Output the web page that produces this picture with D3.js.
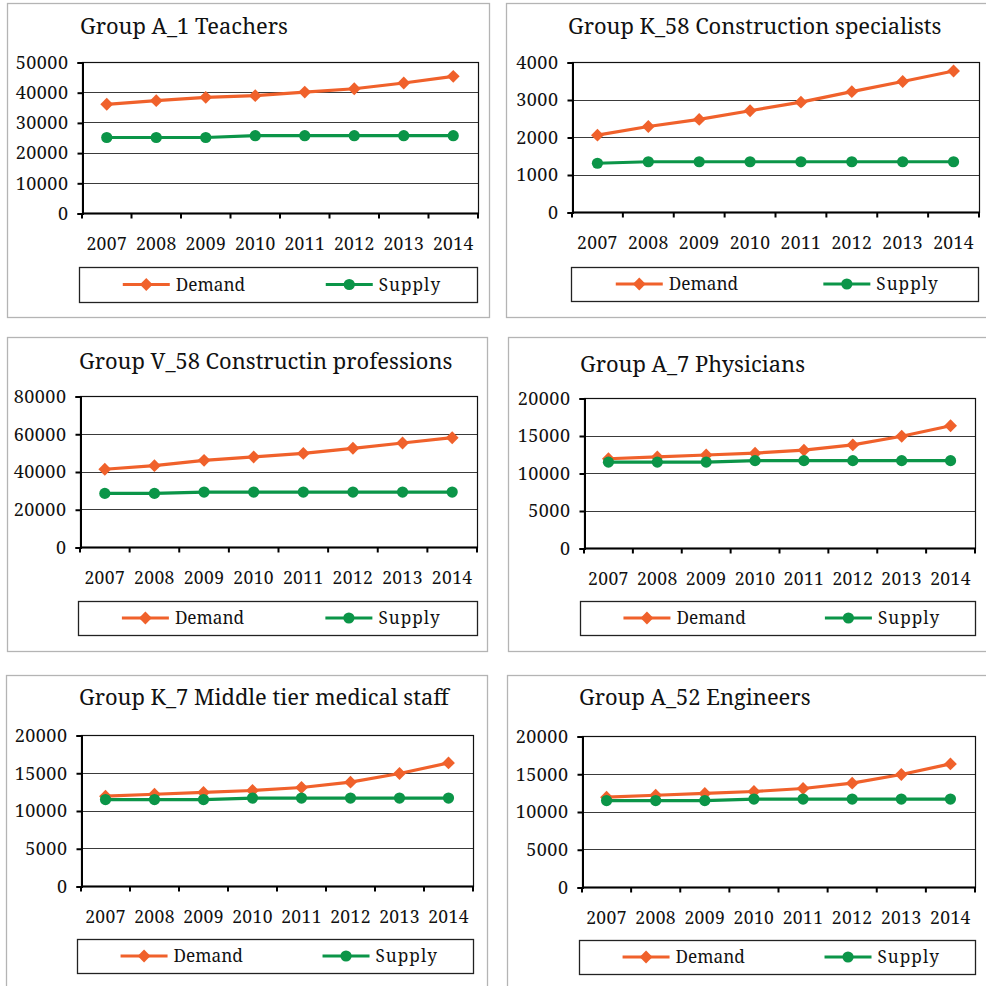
<!DOCTYPE html>
<html>
<head>
<meta charset="utf-8">
<script src="https://cdn.jsdelivr.net/npm/d3@7"></script>
<style>
  html, body { margin: 0; padding: 0; background: #fff; }
  svg { display: block; }
  text { font-family: "Noto Serif", "Noto Serif CJK SC", "Noto Serif CJK JP", "DejaVu Serif", serif; fill: #111; }
</style>
</head>
<body>
<svg id="chart" width="986" height="986"></svg>
<script>
// Years shared by every panel
const years = ["2007", "2008", "2009", "2010", "2011", "2012", "2013", "2014"];

// Panel titles
const titles = [
  "Group A_1 Teachers",
  "Group K_58 Construction specialists",
  "Group V_58 Constructin professions",
  "Group A_7 Physicians",
  "Group K_7 Middle tier medical staff",
  "Group A_52 Engineers"
];

// Demand and supply per group
const demandTeachers   = [36000, 37200, 38300, 38850, 40050, 41150, 43050, 45250];
const supplyTeachers   = [25000, 25000, 25000, 25600, 25600, 25600, 25600, 25600];
const demandConstrSpec = [2050, 2280, 2470, 2700, 2930, 3210, 3480, 3760];
const supplyConstrSpec = [1300, 1340, 1340, 1340, 1340, 1340, 1340, 1340];
const demandConstrProf = [41200, 43100, 45900, 47700, 49600, 52300, 55100, 57900];
const supplyConstrProf = [28400, 28400, 29100, 29100, 29100, 29100, 29100, 29100];
const demandPhysicians = [11900, 12150, 12400, 12650, 13050, 13750, 14900, 16300];
const supplyPhysicians = [11450, 11450, 11450, 11650, 11650, 11650, 11650, 11650];
const demandMedStaff   = [11900, 12150, 12400, 12650, 13050, 13750, 14900, 16300];
const supplyMedStaff   = [11450, 11450, 11450, 11650, 11650, 11650, 11650, 11650];
const demandEngineers  = [11900, 12150, 12400, 12650, 13050, 13750, 14900, 16300];
const supplyEngineers  = [11450, 11450, 11450, 11650, 11650, 11650, 11650, 11650];

// Y-axis tick values per panel
const ticksTeachers   = [0, 10000, 20000, 30000, 40000, 50000];
const ticksConstrSpec = [0, 1000, 2000, 3000, 4000];
const ticksConstrProf = [0, 20000, 40000, 60000, 80000];
const ticksPhysicians = [0, 5000, 10000, 15000, 20000];
const ticksMedStaff   = [0, 5000, 10000, 15000, 20000];
const ticksEngineers  = [0, 5000, 10000, 15000, 20000];

// Series names
const seriesNames = ["Demand", "Supply"];

const panelData = [
  { demand: demandTeachers,   supply: supplyTeachers,   ticks: ticksTeachers },
  { demand: demandConstrSpec, supply: supplyConstrSpec, ticks: ticksConstrSpec },
  { demand: demandConstrProf, supply: supplyConstrProf, ticks: ticksConstrProf },
  { demand: demandPhysicians, supply: supplyPhysicians, ticks: ticksPhysicians },
  { demand: demandMedStaff,   supply: supplyMedStaff,   ticks: ticksMedStaff },
  { demand: demandEngineers,  supply: supplyEngineers,  ticks: ticksEngineers }
];

// Layout of each panel: outer frame, plot area, legend box, title anchor
const layout = [
  { frame: [7, 3, 489, 317],     plot: [82, 62, 478, 213],   legend: [79, 267, 477, 302],   title: [80, 34] },
  { frame: [506, 3, 992, 317],   plot: [572, 62, 979, 212],  legend: [571, 267, 978, 301],  title: [568, 34] },
  { frame: [7, 337, 487, 651],   plot: [80, 396, 477, 547],  legend: [78, 601, 477, 635],   title: [79, 369] },
  { frame: [508, 337, 992, 651], plot: [584, 398, 975, 548], legend: [580, 601, 975, 635],  title: [580, 372] },
  { frame: [6, 675, 487, 992],   plot: [81, 735, 473, 886],  legend: [77, 939, 473, 973],   title: [79, 705] },
  { frame: [507, 675, 992, 992], plot: [582, 736, 975, 887], legend: [579, 940, 975, 974],  title: [579, 705] }
];

const COLORS = { Demand: "#f0612b", Supply: "#0b9548" };
const FONT = '"Noto Serif", "Noto Serif CJK SC", "Noto Serif CJK JP", "DejaVu Serif", serif';
const svg = d3.select("#chart");

const diamond = d3.symbol().type(d3.symbolDiamond2).size(105);

function drawMarker(g, name, x, y) {
  if (name === "Demand") {
    g.append("path").attr("d", diamond()).attr("transform", `translate(${x},${y})`)
      .attr("fill", COLORS.Demand);
  } else {
    g.append("circle").attr("cx", x).attr("cy", y).attr("r", 5.6).attr("fill", COLORS.Supply);
  }
}

panelData.forEach((pd, i) => {
  const L = layout[i];
  const g = svg.append("g");

  // outer frame
  g.append("rect")
    .attr("x", L.frame[0] + 0.5).attr("y", L.frame[1] + 0.5)
    .attr("width", L.frame[2] - L.frame[0]).attr("height", L.frame[3] - L.frame[1])
    .attr("fill", "#fff").attr("stroke", "#b4b4b4").attr("stroke-width", 1.3);

  // title
  g.append("text").attr("x", L.title[0]).attr("y", L.title[1])
    .attr("font-size", 21.9).text(titles[i]);

  const [px0, py0, px1, py1] = L.plot;
  const x = d3.scaleBand().domain(years).range([px0, px1]);
  const y = d3.scaleLinear().domain([0, d3.max(pd.ticks)]).range([py1, py0]);

  // gridlines
  g.append("g").selectAll("line").data(pd.ticks.filter(t => t > 0)).join("line")
    .attr("x1", px0).attr("x2", px1)
    .attr("y1", d => Math.round(y(d)) + 0.5).attr("y2", d => Math.round(y(d)) + 0.5)
    .attr("stroke", "#3a3a3a").attr("stroke-width", 1.1);

  // plot border
  g.append("rect").attr("x", px0 + 0.5).attr("y", Math.round(py0) + 0.5)
    .attr("width", px1 - px0).attr("height", py1 - py0)
    .attr("fill", "none").attr("stroke", "#111").attr("stroke-width", 1.2);

  // y axis
  const yAxis = d3.axisLeft(y).tickValues(pd.ticks).tickSize(5).tickPadding(9)
    .tickFormat(d3.format("d"));
  const ya = g.append("g").attr("transform", `translate(${px0 + 0.5},0.5)`).call(yAxis)
    .attr("font-family", FONT);
  ya.select(".domain").attr("stroke", "#000").attr("stroke-width", 2);
  ya.selectAll(".tick line").attr("stroke", "#000").attr("stroke-width", 2);
  ya.selectAll("text").attr("font-size", 18).attr("fill", "#111").attr("letter-spacing", 0.5);

  // x axis: ticks on band boundaries, labels at band centres
  const xa = g.append("g").attr("transform", `translate(0,${py1 + 0.5})`);
  xa.append("line").attr("x1", px0).attr("x2", px1 + 1).attr("stroke", "#000").attr("stroke-width", 2);
  const bounds = years.map(d => x(d)).concat([x(years[years.length - 1]) + x.bandwidth()]);
  xa.selectAll("line.t").data(bounds).join("line").attr("class", "t")
    .attr("x1", d => d).attr("x2", d => d).attr("y1", 0).attr("y2", 5)
    .attr("stroke", "#000").attr("stroke-width", 2);
  xa.selectAll("text").data(years).join("text")
    .attr("x", d => x(d) + x.bandwidth() / 2).attr("y", 36)
    .attr("text-anchor", "middle").attr("font-size", 17.5).attr("letter-spacing", 0.4)
    .text(d => d);

  // series lines and markers
  const line = d3.line().x((d, j) => x(years[j]) + x.bandwidth() / 2).y(d => y(d));
  seriesNames.forEach(name => {
    const vals = name === "Demand" ? pd.demand : pd.supply;
    g.append("path").datum(vals).attr("d", line)
      .attr("fill", "none").attr("stroke", COLORS[name]).attr("stroke-width", 3.2);
  });
  seriesNames.forEach(name => {
    const vals = name === "Demand" ? pd.demand : pd.supply;
    vals.forEach((v, j) => drawMarker(g, name, x(years[j]) + x.bandwidth() / 2, y(v)));
  });

  // legend
  const [lx0, ly0, lx1, ly1] = L.legend;
  const lw = lx1 - lx0, lcy = (ly0 + ly1) / 2;
  g.append("rect").attr("x", lx0 + 0.5).attr("y", ly0 + 0.5).attr("width", lw).attr("height", ly1 - ly0)
    .attr("fill", "#fff").attr("stroke", "#222").attr("stroke-width", 1.3);
  const offsets = { Demand: 0.11, Supply: 0.62 };
  seriesNames.forEach(name => {
    const sx = lx0 + lw * offsets[name];
    g.append("line").attr("x1", sx).attr("x2", sx + 47).attr("y1", lcy).attr("y2", lcy)
      .attr("stroke", COLORS[name]).attr("stroke-width", 3.2);
    drawMarker(g, name, sx + 23.5, lcy);
    g.append("text").attr("x", sx + 53).attr("y", lcy + 6).attr("font-size", 17.2)
      .attr("letter-spacing", name === "Supply" ? 1.0 : 0).text(name);
  });
});
</script>
</body>
</html>
